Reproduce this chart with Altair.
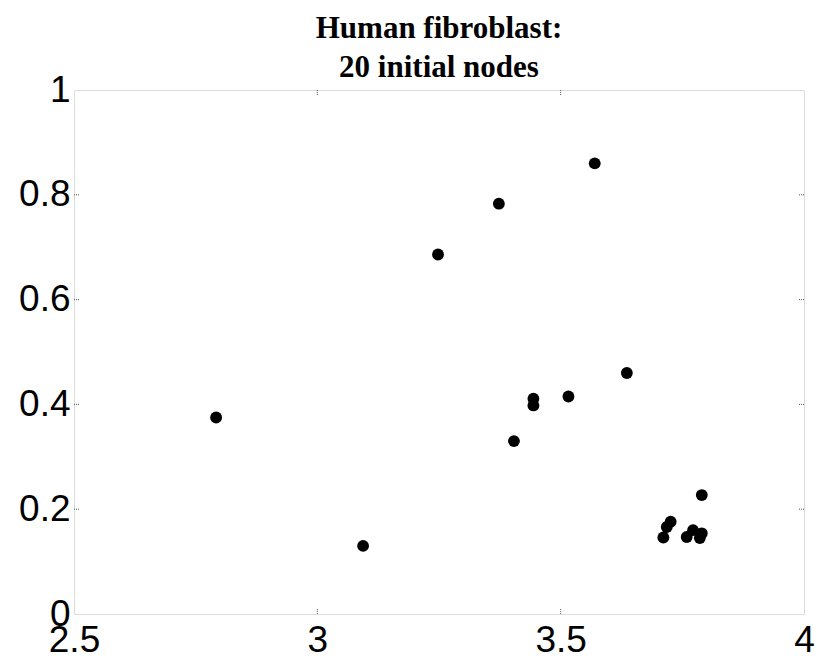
import altair as alt
import pandas as pd

# Node positions
x_vals = [2.792, 3.094, 3.248, 3.373, 3.570, 3.404, 3.444, 3.444, 3.516, 3.636,
          3.790, 3.726, 3.718, 3.711, 3.759, 3.772, 3.790, 3.786]
y_vals = [0.375, 0.130, 0.686, 0.783, 0.860, 0.330, 0.411, 0.398, 0.415, 0.460,
          0.227, 0.176, 0.166, 0.146, 0.147, 0.160, 0.154, 0.145]

x_ticks = [2.5, 3, 3.5, 4]
y_ticks = [0, 0.2, 0.4, 0.6, 0.8, 1]
x_inner = [3, 3.5]
y_inner = [0.2, 0.4, 0.6, 0.8]

W, H = 730, 524
TICK = 5
FRAME = "#555555"

pts = pd.DataFrame({"x": x_vals, "y": y_vals})
xt = pd.DataFrame({"t": x_inner})
yt = pd.DataFrame({"t": y_inner})

xscale = alt.Scale(domain=[2.5, 4], nice=False, zero=False)
yscale = alt.Scale(domain=[0, 1], nice=False, zero=False)

label_font = "Liberation Sans"

x_axis = alt.Axis(values=x_ticks, format="~g", title=None, grid=False, domain=False,
                  ticks=False, labelFontSize=37, labelFont=label_font, labelColor="black",
                  labelPadding=8, labelFlush=False, labelOverlap=False)
y_axis = alt.Axis(values=y_ticks, format="~g", title=None, grid=False, domain=False,
                  ticks=False, labelFontSize=37, labelFont=label_font, labelColor="black",
                  labelPadding=4, labelFlush=False, labelOverlap=False)

points = alt.Chart(pts).mark_circle(size=140, color="black", opacity=1).encode(
    x=alt.X("x:Q", scale=xscale, axis=x_axis),
    y=alt.Y("y:Q", scale=yscale, axis=y_axis),
)

# Small inward tick marks on all four sides
tick_style = dict(color=FRAME, strokeWidth=1, strokeDash=[1, 1])
bottom_ticks = alt.Chart(xt).mark_rule(**tick_style).encode(
    x=alt.X("t:Q", scale=xscale), y=alt.value(H), y2=alt.value(H - TICK))
top_ticks = alt.Chart(xt).mark_rule(**tick_style).encode(
    x=alt.X("t:Q", scale=xscale), y=alt.value(0), y2=alt.value(TICK))
left_ticks = alt.Chart(yt).mark_rule(**tick_style).encode(
    y=alt.Y("t:Q", scale=yscale), x=alt.value(0), x2=alt.value(TICK))
right_ticks = alt.Chart(yt).mark_rule(**tick_style).encode(
    y=alt.Y("t:Q", scale=yscale), x=alt.value(W), x2=alt.value(W - TICK))

chart = alt.layer(points, bottom_ticks, top_ticks, left_ticks, right_ticks).properties(
    width=W,
    height=H,
    title=alt.TitleParams(
        text=["Human fibroblast:", "20 initial nodes"],
        font="Liberation Serif", fontSize=31, fontWeight="bold", color="black",
        anchor="middle", lineHeight=39, offset=-13,
    ),
    autosize=alt.AutoSizeParams(type="none"),
    padding={"left": 74, "top": 90, "right": 13, "bottom": 46},
).configure_view(
    stroke=FRAME, strokeWidth=1, strokeDash=[1, 1]
).configure(background="white")

chart.save("out.html", embed_options={"renderer": "svg", "actions": False})
